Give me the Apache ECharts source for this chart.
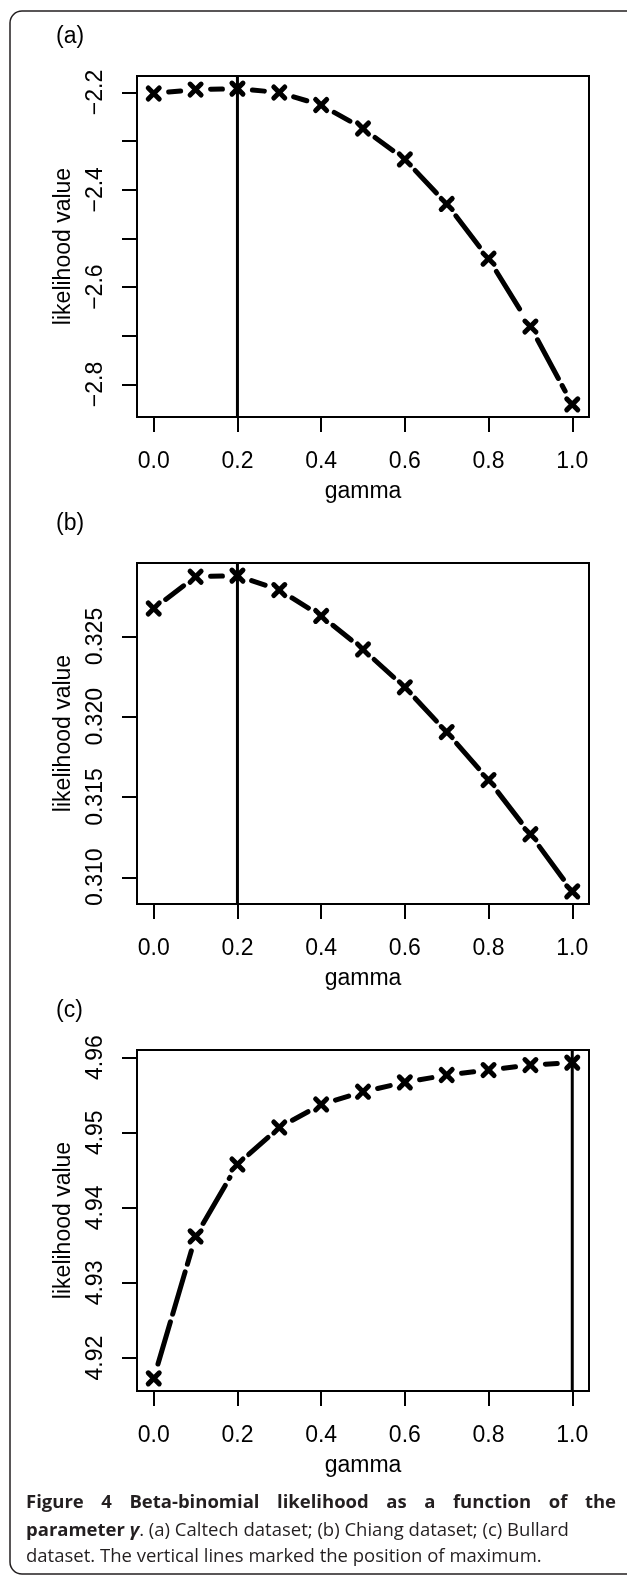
<!DOCTYPE html>
<html>
<head>
<meta charset="utf-8">
<script src="https://cdn.jsdelivr.net/npm/echarts@6/dist/echarts.min.js"></script>
<style>
  html, body { margin: 0; padding: 0; background: #fff; }
  #chart { width: 627px; height: 1575px; }
</style>
</head>
<body>
<div id="chart"></div>
<script>
// ---------------- data ----------------
const gamma = [0.0, 0.1, 0.2, 0.3, 0.4, 0.5, 0.6, 0.7, 0.8, 0.9, 1.0];
const caltech = [-2.202, -2.194, -2.192, -2.200, -2.2257, -2.274, -2.3375, -2.429, -2.5416, -2.681, -2.841];
const chiang = [0.32675, 0.32873, 0.32880, 0.32790, 0.32629, 0.32420, 0.32184, 0.31905, 0.31606, 0.31268, 0.30912];
const bullard = [4.9173, 4.9362, 4.94578, 4.9507, 4.95376, 4.95546, 4.95670, 4.95768, 4.95834, 4.95901, 4.95933];

const xTicks = [0.0, 0.2, 0.4, 0.6, 0.8, 1.0];
const caltechTicks = [-2.8, -2.7, -2.6, -2.5, -2.4, -2.3, -2.2];
const caltechLabels = [-2.8, -2.6, -2.4, -2.2];
const chiangTicks = [0.310, 0.315, 0.320, 0.325];
const bullardTicks = [4.92, 4.93, 4.94, 4.95, 4.96];

const panelLabels = ['(a)', '(b)', '(c)'];
const xName = 'gamma';
const yName = 'likelihood value';
const captionLine1 = 'Figure 4 Beta-binomial likelihood as a function of the';
const captionLine2a = 'parameter ';
const captionLine2b = 'γ';
const captionLine2c = '. (a) Caltech dataset; (b) Chiang dataset; (c) Bullard';
const captionLine3 = 'dataset. The vertical lines marked the position of maximum.';

// ---------------- layout ----------------
const AX_FONT = 'Liberation Sans';
const CAP_FONT = 'Open Sans';
const PLOT_LEFT = 137, PLOT_W = 452, PLOT_H = 341;
const PLOT_TOPS = [76, 563, 1050];
const TRIM = 15;

const panels = [
  { y: caltech, ticks: caltechTicks, labels: caltechLabels, fmt: v => (v < 0 ? '\u2212' : '') + Math.abs(v).toFixed(1) },
  { y: chiang, ticks: chiangTicks, labels: chiangTicks, fmt: v => v.toFixed(3) },
  { y: bullard, ticks: bullardTicks, labels: bullardTicks, fmt: v => v.toFixed(2) }
];

const grids = [], xAxes = [], yAxes = [], series = [], graphics = [];

panels.forEach((p, i) => {
  const lo = Math.min(...p.y), hi = Math.max(...p.y), r = hi - lo;
  grids.push({ left: PLOT_LEFT, top: PLOT_TOPS[i], width: PLOT_W, height: PLOT_H,
    show: true, borderColor: '#000', borderWidth: 2, backgroundColor: 'transparent' });
  xAxes.push({
    gridIndex: i, type: 'value', min: -0.04, max: 1.04,
    axisLine: { show: false, onZero: false }, splitLine: { show: false },
    axisTick: { show: true, length: 15, lineStyle: { color: '#000', width: 2 }, customValues: xTicks },
    axisLabel: { customValues: xTicks, formatter: v => v.toFixed(1), fontSize: 23, fontFamily: AX_FONT, color: '#000', margin: 33 },
    name: xName, nameLocation: 'middle', nameGap: 63.5,
    nameTextStyle: { fontSize: 23, fontFamily: AX_FONT, color: '#000' }
  });
  yAxes.push({
    gridIndex: i, type: 'value', min: lo - 0.04 * r, max: hi + 0.04 * r,
    axisLine: { show: false, onZero: false }, splitLine: { show: false },
    axisTick: { show: true, length: 15, lineStyle: { color: '#000', width: 2 }, customValues: p.ticks },
    axisLabel: { customValues: p.labels, formatter: p.fmt, rotate: 90, fontSize: 23, fontFamily: AX_FONT, color: '#000', margin: 29.5 },
    name: yName, nameLocation: 'middle', nameGap: 61.5, nameRotate: 90,
    nameTextStyle: { fontSize: 23, fontFamily: AX_FONT, color: '#000' }
  });

  // vertical line at the maximum
  const im = p.y.indexOf(hi);
  series.push({
    type: 'custom', xAxisIndex: i, yAxisIndex: i, silent: true,
    data: [[gamma[im], p.y[im]]],
    renderItem: (params, api) => {
      const c = api.coord([api.value(0), api.value(1)]);
      const cs = params.coordSys;
      return { type: 'line', shape: { x1: c[0], y1: cs.y, x2: c[0], y2: cs.y + cs.height },
        style: { stroke: '#000', lineWidth: 3 } };
    }
  });

  // dashed segments between points (type "b")
  const segs = gamma.slice(0, -1).map((g, k) => [g, p.y[k], gamma[k + 1], p.y[k + 1]]);
  series.push({
    type: 'custom', xAxisIndex: i, yAxisIndex: i, silent: true,
    encode: { x: [0, 2], y: [1, 3] },
    data: segs,
    renderItem: (params, api) => {
      const a = api.coord([api.value(0), api.value(1)]);
      const b = api.coord([api.value(2), api.value(3)]);
      const dx = b[0] - a[0], dy = b[1] - a[1], L = Math.hypot(dx, dy);
      if (L <= 2 * TRIM) return null;
      const t = TRIM / L;
      return { type: 'line',
        shape: { x1: a[0] + dx * t, y1: a[1] + dy * t, x2: b[0] - dx * t, y2: b[1] - dy * t },
        style: { stroke: '#000', lineWidth: 5, lineCap: 'round', lineDash: [44, 8] } };
    }
  });

  // x markers
  series.push({
    type: 'custom', xAxisIndex: i, yAxisIndex: i, silent: true,
    data: gamma.map((g, k) => [g, p.y[k]]),
    renderItem: (params, api) => {
      const c = api.coord([api.value(0), api.value(1)]);
      const d = 5.5;
      const st = { stroke: '#000', lineWidth: 5, lineCap: 'round' };
      return { type: 'group', children: [
        { type: 'line', shape: { x1: c[0] - d, y1: c[1] - d, x2: c[0] + d, y2: c[1] + d }, style: st },
        { type: 'line', shape: { x1: c[0] - d, y1: c[1] + d, x2: c[0] + d, y2: c[1] - d }, style: st }
      ] };
    }
  });

  graphics.push({ type: 'text', x: 56, y: PLOT_TOPS[i] - 39.5,
    style: { text: panelLabels[i], fontSize: 23, fontFamily: AX_FONT, fill: '#000', textAlign: 'left', textVerticalAlign: 'middle' } });
});

// ---------------- caption ----------------
const ctx = document.createElement('canvas').getContext('2d');
function tw(text, weight, style, size) {
  ctx.font = `${style} ${weight} ${size}px "${CAP_FONT}"`;
  return ctx.measureText(text).width;
}
let capSize = 17;
capSize = capSize * 516 / tw(captionLine3, 'normal', 'normal', capSize);
const CAP_X0 = 26, CAP_X1 = 616, CAP_COLOR = '#231f20';
const capY = [1503, 1531, 1557];

// line 1 justified, bold
const words = captionLine1.split(' ');
const ww = words.map(w => tw(w, 'bold', 'normal', capSize));
const gap = (CAP_X1 - CAP_X0 - ww.reduce((s, v) => s + v, 0)) / (words.length - 1);
let cx = CAP_X0;
words.forEach((w, k) => {
  graphics.push({ type: 'text', x: cx, y: capY[0],
    style: { text: w, fontSize: capSize, fontFamily: CAP_FONT, fontWeight: 'bold', fill: CAP_COLOR, textAlign: 'left', textVerticalAlign: 'middle' } });
  cx += ww[k] + gap;
});
// line 2 mixed
let x2 = CAP_X0;
graphics.push({ type: 'text', x: x2, y: capY[1],
  style: { text: captionLine2a, fontSize: capSize, fontFamily: CAP_FONT, fontWeight: 'bold', fill: CAP_COLOR, textAlign: 'left', textVerticalAlign: 'middle' } });
x2 += tw(captionLine2a, 'bold', 'normal', capSize);
graphics.push({ type: 'text', x: x2, y: capY[1],
  style: { text: captionLine2b, fontSize: capSize, fontFamily: CAP_FONT, fontWeight: 'bold', fontStyle: 'italic', fill: CAP_COLOR, textAlign: 'left', textVerticalAlign: 'middle' } });
x2 += tw(captionLine2b, 'bold', 'italic', capSize);
graphics.push({ type: 'text', x: x2, y: capY[1],
  style: { text: captionLine2c, fontSize: capSize, fontFamily: CAP_FONT, fill: CAP_COLOR, textAlign: 'left', textVerticalAlign: 'middle' } });
// line 3
graphics.push({ type: 'text', x: CAP_X0, y: capY[2],
  style: { text: captionLine3, fontSize: capSize, fontFamily: CAP_FONT, fill: CAP_COLOR, textAlign: 'left', textVerticalAlign: 'middle' } });

// outer rounded frame (right side runs off the page)
graphics.push({ type: 'rect', z: -10, silent: true,
  shape: { x: 10, y: 11, width: 640, height: 1563, r: 12 },
  style: { fill: 'none', stroke: '#231f20', lineWidth: 1.5 } });

const chart = echarts.init(document.getElementById('chart'), null, { renderer: 'canvas' });
chart.setOption({
  backgroundColor: '#fff',
  animation: false,
  grid: grids,
  xAxis: xAxes,
  yAxis: yAxes,
  series: series,
  graphic: graphics
});
</script>
</body>
</html>
